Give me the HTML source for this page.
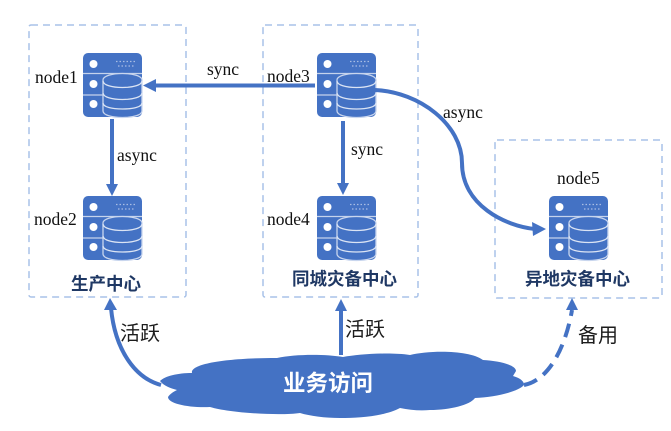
<!DOCTYPE html>
<html><head><meta charset="utf-8">
<style>
html,body{margin:0;padding:0;background:#fff;width:671px;height:431px;overflow:hidden}
svg{display:block}
.en{font-family:"Liberation Serif",serif;font-size:17.5px;fill:#111}
.zh{font-family:"Liberation Sans","Noto Sans CJK SC",sans-serif;font-size:20px;fill:#1c1c1c}
.ti{font-family:"Liberation Sans","Noto Sans CJK SC",sans-serif;font-size:17.5px;font-weight:700;fill:#1f3864}
</style></head><body>
<svg width="671" height="431" viewBox="0 0 671 431" xmlns="http://www.w3.org/2000/svg">
<defs>
<g id="srv">
<rect x="0" y="0" width="59" height="64" rx="5" fill="#4472c4"/>
<path d="M0 20.500H59M0 42H24" stroke="#c5d3ec" stroke-width="1.300" fill="none"/>
<circle cx="10.500" cy="11" r="4" fill="#fff"/>
<circle cx="10.500" cy="31" r="4" fill="#fff"/>
<circle cx="10.500" cy="51" r="4" fill="#fff"/>
<path d="M33 8.500h19M35 13h17" stroke="#a9bde3" stroke-width="1.200" stroke-dasharray="1.500 2" fill="none"/>
<path d="M20 27c0-4 9-6.500 19.500-6.500S59 23 59 27V58c0 4-9 6.500-19.500 6.500S20 62 20 58Z" fill="#4472c4" stroke="#c9d6ee" stroke-width="1.300"/>
<path d="M20 28c0 4 9 6.500 19.500 6.500S59 32 59 28M20 40c0 4 9 6.500 19.500 6.500S59 44 59 40M20 50c0 4 9 6 19.500 6S59 54 59 50" fill="none" stroke="#dbe4f4" stroke-width="1.300"/>
</g>
</defs>

<g fill="none" stroke="#a9c2e8" stroke-width="1.500" stroke-dasharray="7 5">
<rect x="29" y="25" width="157" height="272" rx="2"/>
<rect x="263" y="25" width="155" height="272" rx="2"/>
<rect x="495" y="140" width="167" height="158" rx="2"/>
</g>

<use href="#srv" x="83" y="53"/>
<use href="#srv" x="317" y="53"/>
<use href="#srv" x="83" y="196"/>
<use href="#srv" x="317" y="196"/>
<use href="#srv" x="549" y="196"/>

<g fill="none" stroke="#4472c4" stroke-width="4">
<path d="M315 85.500H155"/>
<path d="M112 119V185"/>
<path d="M343 121V186"/>
<path d="M375 90C420 92 462 125 462 163C462 205 505 226 535 229"/>
<path d="M161 385C135 378 115 350 111 308"/>
<path d="M341 355V309"/>
<path d="M524 385C550 380 566 345 572 310" stroke-dasharray="14 8"/>
</g>
<g fill="#4472c4">
<path d="M143 85.500L156 79V92Z"/>
<path d="M112 196L106 184H118Z"/>
<path d="M343 195L337 183H349Z"/>
<path d="M546 229L532 222L533 236Z"/>
<path d="M110 298L104 310H117Z"/>
<path d="M341 299L335 311H347Z"/>
<path d="M572 298L566 310H578Z"/>
</g>

<path fill="#4472c4" d="M160 381C165 376 178 373 192 373C190 364 225 358 277 358C295 354 325 354 343 357C360 354 390 352 410 355C430 350 470 350 483 360C500 361 516 365 516 371L513 376C520 378 524 381 524 385C518 392 495 397 475 398C470 405 450 410 430 410C420 411 410 410 400 408C385 416 360 418 340 418C325 418 310 416 300 413C280 416 230 413 210 407C190 408 168 404 168 397C170 394 173 392 177 390C170 388 164 386 160 381Z"/>

<text class="en" x="35" y="83">node1</text>
<text class="en" x="34" y="225">node2</text>
<text class="en" x="267" y="82">node3</text>
<text class="en" x="267" y="225">node4</text>
<text class="en" x="557" y="184">node5</text>
<text class="en" x="207" y="75">sync</text>
<text class="en" x="117" y="161">async</text>
<text class="en" x="351" y="155">sync</text>
<text class="en" x="443" y="118">async</text>

<text class="ti" x="71" y="290">生产中心</text>
<text class="ti" x="292" y="285">同城灾备中心</text>
<text class="ti" x="525" y="285">异地灾备中心</text>

<text class="zh" x="120" y="340">活跃</text>
<text class="zh" x="345" y="336">活跃</text>
<text class="zh" x="578" y="342">备用</text>
<text x="283" y="391" font-family="'Liberation Sans','Noto Sans CJK SC',sans-serif" font-size="22.500" font-weight="700" fill="#fff">业务访问</text>
</svg>
</body></html>
